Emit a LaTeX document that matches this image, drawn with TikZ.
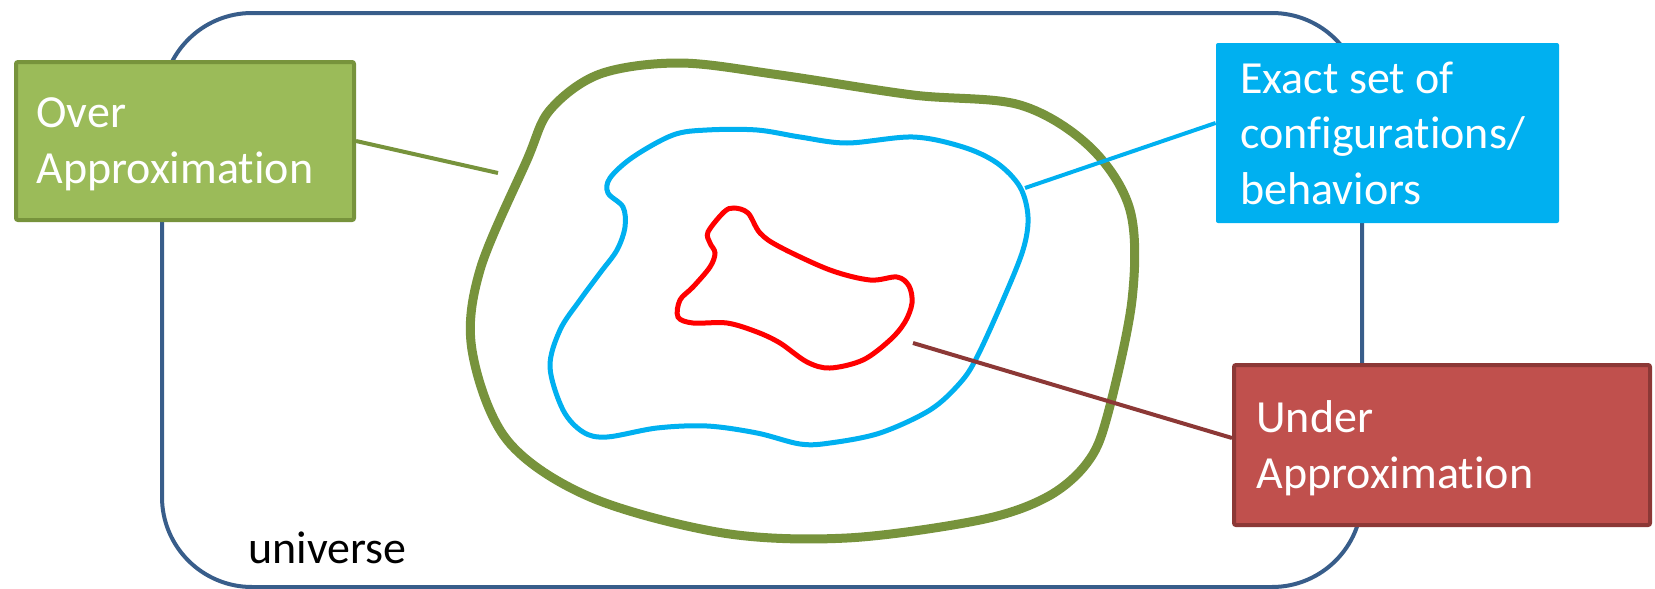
\documentclass[tikz,border=0pt]{standalone}
\usepackage{fontspec}
\setmainfont{Carlito}[Ligatures=NoCommon]
\usetikzlibrary{positioning}
\definecolor{univblue}{HTML}{385D8A}
\definecolor{overgreen}{HTML}{9BBB59}
\definecolor{overdark}{HTML}{77933C}
\definecolor{exactblue}{HTML}{00B0F0}
\definecolor{underred}{HTML}{C0504D}
\definecolor{underdark}{HTML}{8C3836}
\definecolor{innerred}{HTML}{FF0000}
\tikzset{
  setbox/.style={rectangle, rounded corners=1pt, inner sep=0pt},
  % base 锚点在最后一行的基线上
  boxtext/.style={text=white, align=left, inner sep=0pt, anchor=base west,
    font=\fontsize{23}{27.75}\selectfont},
  linkline/.style={line width=2pt}
}

\begin{document}
\begin{tikzpicture}[x=0.5pt,y=-0.5pt]
  % 固定画布大小
  \useasboundingbox (0,0) rectangle (1655,589);
  % 全集：圆角矩形
  \draw[univblue, line width=2pt, rounded corners=45pt] (162,13) rectangle (1362,587);
  \node[anchor=base west, inner sep=0pt, font=\fontsize{23}{27.75}\selectfont] (univ) at (248,563) {universe};
  % 过近似：绿色闭合曲线
  \draw[overdark, line width=4.5pt] plot[smooth cycle, tension=0.55] coordinates {
    (550,110) (600,74) (680,63) (780,75) (913,95) (1020,105) (1090,147)
    (1130,210) (1132,300) (1107,417) (1087,463) (1047,497) (980,520)
    (847,538) (723,533) (590,497) (507,440) (472,350) (480,270) (527,160)};
  % 精确集合：蓝色曲线
  \draw[exactblue, line width=2.5pt] plot[smooth cycle, tension=0.55] coordinates {
    (610,178) (633,157) (673,135) (707,130) (757,130) (800,137) (847,143)
    (913,137) (963,147) (997,163) (1020,187) (1028,217) (1023,250) (1003,300)
    (977,357) (960,383) (930,410) (880,433) (830,443) (800,444) (757,433)
    (707,426) (657,428) (607,437) (583,432) (563,410) (550,367) (560,330)
    (580,300) (600,273) (617,250) (625,227) (623,207) (608,193)};
  % 欠近似：红色曲线
  \draw[innerred, line width=2.5pt] plot[smooth cycle, tension=0.55] coordinates {
    (734,208) (748,213) (760,233) (780,247) (830,270) (870,280) (897,277)
    (909,286) (912,303) (905,322) (890,340) (863,360) (830,368) (807,362)
    (780,343) (757,332) (727,323) (693,323) (678,317) (680,300) (693,287)
    (710,267) (715,253) (710,243) (708,232) (724,212)};
  % 三个标签框
  \node[setbox, fill=overgreen, draw=overdark, line width=2pt,
    minimum width=169pt, minimum height=79pt] (over) at (185,141) {};
  \node[boxtext] (overtext) at (36,183) {Over\\Approximation};
  \node[setbox, fill=exactblue, minimum width=171.5pt, minimum height=90pt] (exact) at (1387.5,133) {};
  \node[boxtext] (exacttext) at (1240,204) {Exact set of\\configurations/\\behaviors};
  \node[setbox, fill=underred, draw=underdark, line width=2pt,
    minimum width=208pt, minimum height=80pt] (under) at (1442,445) {};
  \node[boxtext] (undertext) at (1256,488) {Under\\Approximation};
  % 连线
  \coordinate (overtip) at (498,173);
  \coordinate (exacttip) at (1025,188);
  \coordinate (undertip) at (913,343);
  \draw[linkline, overdark] (over.east) -- (overtip);
  \draw[linkline, exactblue] ([yshift=5pt]exact.west) -- (exacttip);
  \draw[linkline, underdark] ([yshift=3.5pt]under.west) -- (undertip);
\end{tikzpicture}
\end{document}
